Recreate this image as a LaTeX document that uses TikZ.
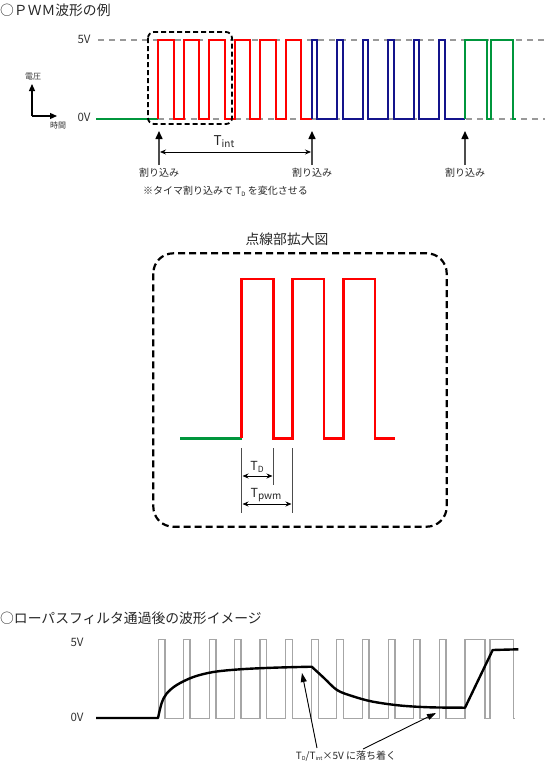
\documentclass[tikz,border=0pt]{standalone}
\usepackage{fontspec}
\setmainfont{Noto Sans CJK JP}
\usetikzlibrary{arrows.meta}
\definecolor{wred}{RGB}{255,0,0}
\definecolor{wblue}{RGB}{20,20,140}
\definecolor{wgreen}{RGB}{0,150,60}
\newcommand{\sbs}[2][7]{\raisebox{-0.3ex}{\fontsize{#1}{#1}\selectfont #2}}
\begin{document}
\begin{tikzpicture}[x=1pt,y=-1pt,
  lbl/.style={inner sep=0pt, font=\fontsize{10}{12}\selectfont, text=black!85},
  small/.style={inner sep=0pt, font=\fontsize{8}{9}\selectfont, text=black!80},
  vlbl/.style={inner sep=0pt, font=\fontsize{11.5}{12}\selectfont, text=black!80},
  tlbl/.style={inner sep=0pt, font=\fontsize{12.5}{13}\selectfont, text=black!85},
  ttl/.style={inner sep=0pt, anchor=west, font=\fontsize{13.8}{15}\selectfont, text=black!85},
  guide/.style={gray!80, line width=1.3pt, dash pattern=on 6pt off 5pt},
  wave/.style={line width=2pt},
  bigwave/.style={line width=2.6pt},
  gwave/.style={black!35, line width=1.2pt},
  zoombox/.style={line width=1.8pt, dash pattern=on 5pt off 3pt, rounded corners=6pt},
  bigbox/.style={line width=2.2pt, dash pattern=on 7pt off 4pt, rounded corners=20pt},
  irq/.style={black!70, line width=1.5pt, -{Triangle[length=8pt,width=7pt,color=black]}},
  axisarr/.style={line width=1.2pt, -{Triangle[length=7pt,width=6pt]}},
  dim/.style={line width=0.8pt, {Stealth[length=6pt,width=5pt]}-{Stealth[length=6pt,width=5pt]}},
  tick/.style={black!70, line width=0.8pt},
  ann/.style={line width=0.9pt, -{Triangle[length=9pt,width=6pt]}}
]
\useasboundingbox (0,0) rectangle (545,766);

% ---------- top section ----------
\node[ttl] (title1) at (0,10) {○ＰＷＭ波形の例};

\node[vlbl] (v5) at (84,39) {5V};
\node[vlbl] (v0) at (84,117) {0V};
\draw[guide] (98,40) -- (545,40);
\draw[guide] (158,119) -- (545,119);

% axis icon
\coordinate (o) at (32,116);
\coordinate (oy) at (32,84);
\coordinate (ox) at (57,116);
\draw[axisarr] (o) -- (oy);
\draw[axisarr] (o) -- (ox);
\node[small] (volt) at (33,77) {電圧};
\node[small] (time) at (58,125) {時間};

% waveform
\draw[wave, wgreen] (96,119) -- (158.3,119);
\draw[wave, wred] (158.3,119)
  foreach \s in {158.3,183.8,209.3,234.8,260.3,285.8} {
    -- (\s,119) -- (\s,40) -- (\s+15.6,40) -- (\s+15.6,119)} -- (311.7,119);
\draw[wave, wblue] (311.7,119)
  foreach \s in {311.7,337.2,362.7,388.2,413.7,439.2} {
    -- (\s,119) -- (\s,40) -- (\s+5.5,40) -- (\s+5.5,119)} -- (464.5,119);
\draw[wave, wgreen] (464.5,119) -- (464.5,40) -- (486.7,40) -- (486.7,119)
  -- (490.7,119) -- (490.7,40) -- (513.3,40) -- (513.3,119) -- (516,119);

\draw[zoombox] (148,32) rectangle (232,124);

% interrupts
\node[lbl] (i1) at (159,173) {割り込み};
\node[lbl] (i2) at (312,173) {割り込み};
\node[lbl] (i3) at (465,173) {割り込み};
\coordinate (t1) at (159,131);
\coordinate (t2) at (312,131);
\coordinate (t3) at (465,131);
\draw[irq] ([yshift=3pt]i1.north) -- (t1);
\draw[irq] ([yshift=3pt]i2.north) -- (t2);
\draw[irq] ([yshift=3pt]i3.north) -- (t3);

\coordinate (a1) at (160,152);
\coordinate (a2) at (311,152);
\draw[dim] (a1) -- (a2);
\node[tlbl, font=\fontsize{13.5}{14}\selectfont] (tint) at (224,142) {T\sbs[10]{int}};

\node[lbl, anchor=west] (note) at (143,191) {※タイマ割り込みで T\sbs[6]{D} を変化させる};

% ---------- middle section ----------
\node[ttl, anchor=center] (title2) at (287,239) {点線部拡大図};
\draw[bigbox] (153.3,253.3) rectangle (446.7,526.7);

\draw[bigwave, wgreen] (180,438.3) -- (241.7,438.3);
\draw[bigwave, wred] (241.7,438.3)
  foreach \s in {241.7,292.3,343.3} {
    -- (\s,438.3) -- (\s,279) -- (\s+31.7,279) -- (\s+31.7,438.3)} -- (395,438.3);

\draw[tick] (241.7,448) -- (241.7,512.7);
\draw[tick] (273.3,448) -- (273.3,485);
\draw[tick] (292.3,448) -- (292.3,512.7);
\coordinate (d1) at (242.5,476);
\coordinate (d2) at (272.5,476);
\coordinate (p1) at (242.5,504);
\coordinate (p2) at (291.5,504);
\draw[dim] (d1) -- (d2);
\draw[dim] (p1) -- (p2);
\node[tlbl] (td) at (257,467) {T\sbs[8.5]{D}};
\node[tlbl] (tpwm) at (266,495) {T\sbs[10]{pwm}};

% ---------- bottom section ----------
\node[ttl] (title3) at (0,618) {○ローパスフィルタ通過後の波形イメージ};
\node[vlbl] (b5) at (77,642) {5V};
\node[vlbl] (b0) at (77,717) {0V};

\draw[gwave] (158.3,718.3)
  foreach \s in {158.3,183.3,209.3,234.3,260,285.7,311.7,336.7,362.3,388.3,413.3,439.3} {
    -- (\s,718.3) -- (\s,639.3) -- (\s+6.7,639.3) -- (\s+6.7,718.3)}
  -- (465,718.3) -- (465,639.3) -- (485,639.3) -- (485,718.3)
  -- (490,718.3) -- (490,639.3) -- (513.3,639.3) -- (513.3,718.3) -- (515,718.3);

\draw[line width=2.4pt, line join=round] (96,718) -- (158,718)
  -- plot[smooth, tension=0.55] coordinates {(158,718) (161.7,703) (166.7,693.5) (176.7,685) (193.3,677) (213.3,672) (240,669.3) (273.3,667.7) (311.7,666.7)}
  -- plot[smooth, tension=0.55] coordinates {(311.7,666.7) (324,678) (337,690) (352,696) (372,701.5) (400,705.5) (430,707.3) (465,707.7)}
  -- (492.7,650) -- (518.3,649.3);

\node[lbl] (settle) at (346,756) {T\sbs[5.5]{D}/T\sbs[5.5]{int}×5V に落ち着く};
\coordinate (c1) at (302,673);
\coordinate (c2) at (436,713);
\draw[ann] (317,748) -- (c1);
\draw[ann] (363,749) -- (c2);
\end{tikzpicture}
\end{document}
